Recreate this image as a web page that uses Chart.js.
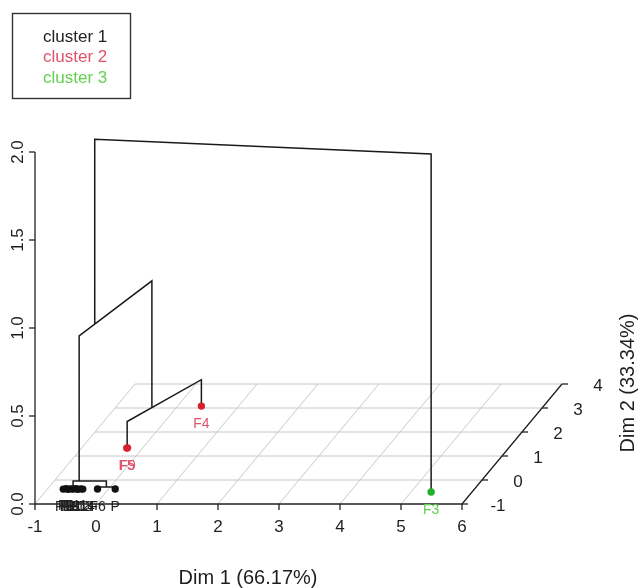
<!DOCTYPE html>
<html>
<head>
<meta charset="utf-8">
<script src="https://cdn.jsdelivr.net/npm/chart.js@4.4.1/dist/chart.umd.min.js"></script>
<style>
  body { margin: 0; background: #fff; }
  canvas { display: block; }
</style>
</head>
<body>
<canvas id="chart" width="642" height="588"></canvas>
<script>
// Individuals (leaves)
const leafNames = ['F1', 'F2', 'F7', 'F8', 'F10', 'F11', 'F12', 'F13', 'F14', 'F6', 'P', 'F5', 'F9', 'F4', 'F3'];
const dim1 = [-0.74, -0.70, -0.66, -0.62, -0.58, -0.54, -0.50, -0.46, -0.42, -0.18, 0.11, -0.26, -0.25, 0.39, 5.33];
const dim2 = [-0.38, -0.36, -0.39, -0.37, -0.38, -0.36, -0.39, -0.37, -0.38, -0.375, -0.375, 1.33, 1.34, 3.08, -0.50];
const leafCluster = [1, 1, 1, 1, 1, 1, 1, 1, 1, 1, 1, 2, 2, 2, 3];

// Hierarchical tree (hclust style: negative = leaf, positive = earlier merge)
const mergePairs = [[-1, -2], [-3, -4], [-5, -6], [-7, -8], [1, 2], [3, 4], [6, -9], [5, 7],
                    [-10, -11], [8, 9], [-12, -13], [11, -14], [10, 12], [13, -15]];
const mergeHeights = [0.004, 0.004, 0.004, 0.004, 0.008, 0.008, 0.010, 0.014,
                      0.011, 0.045, 0.001, 0.15, 0.87, 1.92];

const clusterNames = ['cluster 1', 'cluster 2', 'cluster 3'];
const clusterTextColors = ['#222222', '#DF536B', '#61D04F'];
const clusterPointColors = ['#111111', '#D8202E', '#22B02A'];

const dim1Ticks = [-1, 0, 1, 2, 3, 4, 5, 6];
const dim2Ticks = [-1, 0, 1, 2, 3, 4];
const heightTicks = [0, 0.5, 1, 1.5, 2];
const heightTickLabels = ['0.0', '0.5', '1.0', '1.5', '2.0'];

const xTitle = 'Dim 1 (66.17%)';
const zTitle = 'Dim 2 (33.34%)';

// oblique projection of the 3D box onto the chart plane
const SHIFT_X = 20 / 61;
const SHIFT_Y = 24 / 176;
function proj(d1, d2, h) {
    const t = d2 - dim2Ticks[0];
    return { x: d1 + t * SHIFT_X, y: h + t * SHIFT_Y };
}

// tree node positions = centroid of their leaves
const leaves = leafNames.map((_, i) => ({ d1: dim1[i], d2: dim2[i], h: 0, n: 1 }));
const nodes = [];
const getNode = ref => ref < 0 ? leaves[-ref - 1] : nodes[ref - 1];
mergePairs.forEach((pair, k) => {
    const a = getNode(pair[0]), b = getNode(pair[1]);
    const n = a.n + b.n;
    nodes.push({
        d1: (a.d1 * a.n + b.d1 * b.n) / n,
        d2: (a.d2 * a.n + b.d2 * b.n) / n,
        h: mergeHeights[k], n, a, b
    });
});

const treeData = [];
nodes.forEach(nd => {
    treeData.push(proj(nd.a.d1, nd.a.d2, nd.a.h), proj(nd.a.d1, nd.a.d2, nd.h),
                  proj(nd.b.d1, nd.b.d2, nd.h), proj(nd.b.d1, nd.b.d2, nd.b.h),
                  { x: null, y: null });
});

const d1Min = dim1Ticks[0], d1Max = dim1Ticks[dim1Ticks.length - 1];
const d2Min = dim2Ticks[0], d2Max = dim2Ticks[dim2Ticks.length - 1];

const gridData = [];
dim2Ticks.slice(1).forEach(d2 => gridData.push(proj(d1Min, d2, 0), proj(d1Max, d2, 0), { x: null, y: null }));
dim1Ticks.slice(0, -1).forEach(d1 => gridData.push(proj(d1, d2Min, 0), proj(d1, d2Max, 0), { x: null, y: null }));

const axisData = [
    proj(d1Min, d2Min, heightTicks[heightTicks.length - 1]), proj(d1Min, d2Min, 0),
    proj(d1Max, d2Min, 0), proj(d1Max, d2Max, 0)
];

const pointSets = clusterNames.map((name, c) => ({
    label: name,
    data: leafNames.map((_, i) => i).filter(i => leafCluster[i] === c + 1)
        .map(i => proj(dim1[i], dim2[i], 0)),
    showLine: false,
    pointRadius: 3.7,
    pointBorderWidth: 0,
    pointBackgroundColor: clusterPointColors[c],
    clip: false
}));

const FONT = '"Liberation Sans", Arial, sans-serif';

// ticks, labels, titles and legend box
const decorations = {
    id: 'decorations',
    afterDatasetsDraw(chart) {
        const ctx = chart.ctx, xs = chart.scales.x, ys = chart.scales.y;
        const px = (d1, d2, h) => {
            const p = proj(d1, d2, h);
            return [xs.getPixelForValue(p.x), ys.getPixelForValue(p.y)];
        };
        const seg = (x1, y1, x2, y2) => {
            ctx.beginPath(); ctx.moveTo(x1, y1); ctx.lineTo(x2, y2); ctx.stroke();
        };
        ctx.save();
        ctx.strokeStyle = '#222';
        ctx.lineWidth = 1.3;
        ctx.fillStyle = '#1e1e1e';
        ctx.font = '17px ' + FONT;
        ctx.textAlign = 'center';
        ctx.textBaseline = 'middle';

        heightTicks.forEach((h, i) => {
            const [x, y] = px(d1Min, d2Min, h);
            seg(x, y, x - 6, y);
            ctx.save();
            ctx.translate(18, y);
            ctx.rotate(-Math.PI / 2);
            ctx.fillText(heightTickLabels[i], 0, 0);
            ctx.restore();
        });
        dim1Ticks.forEach(d => {
            const [x, y] = px(d, d2Min, 0);
            seg(x, y, x, y + 6);
            ctx.fillText(String(d), x, y + 23);
        });
        dim2Ticks.forEach(d => {
            const [x, y] = px(d1Max, d, 0);
            seg(x, y, x + 6, y);
            ctx.fillText(String(d), x + 36, y + 2);
        });

        // point labels
        ctx.font = '14px ' + FONT;
        leafNames.forEach((name, i) => {
            const [x, y] = px(dim1[i], dim2[i], 0);
            ctx.fillStyle = clusterTextColors[leafCluster[i] - 1];
            ctx.fillText(name, x, y + 18);
        });

        // axis titles
        ctx.fillStyle = '#1e1e1e';
        ctx.font = '20px ' + FONT;
        ctx.fillText(xTitle, 248, 578);
        ctx.save();
        ctx.translate(628, 383);
        ctx.rotate(-Math.PI / 2);
        ctx.fillText(zTitle, 0, 0);
        ctx.restore();

        // legend
        ctx.strokeStyle = '#333';
        ctx.lineWidth = 1.4;
        ctx.strokeRect(12.5, 13.5, 118, 85);
        ctx.font = '17px ' + FONT;
        ctx.textAlign = 'left';
        clusterNames.forEach((name, c) => {
            ctx.fillStyle = clusterTextColors[c];
            ctx.fillText(name, 43, 37 + c * 20.5);
        });
        ctx.restore();
    }
};

new Chart(document.getElementById('chart'), {
    type: 'line',
    data: {
        datasets: [
            ...pointSets,
            { label: 'tree', data: treeData, borderColor: '#1a1a1a', borderWidth: 1.5, pointRadius: 0, clip: false },
            { label: 'axes', data: axisData, borderColor: '#222', borderWidth: 1.3, pointRadius: 0, clip: false },
            { label: 'grid', data: gridData, borderColor: '#c8c8c8', borderWidth: 1, pointRadius: 0, clip: false }
        ]
    },
    options: {
        responsive: false,
        animation: false,
        layout: { padding: { left: 35, right: 27.5, top: 116.8, bottom: 48.8 } },
        scales: {
            x: { type: 'linear', min: -1, max: 8.5, display: false },
            y: { type: 'linear', min: -0.2, max: 2.2, display: false }
        },
        plugins: { legend: { display: false }, tooltip: { enabled: false } },
        events: []
    },
    plugins: [decorations]
});
</script>
</body>
</html>
